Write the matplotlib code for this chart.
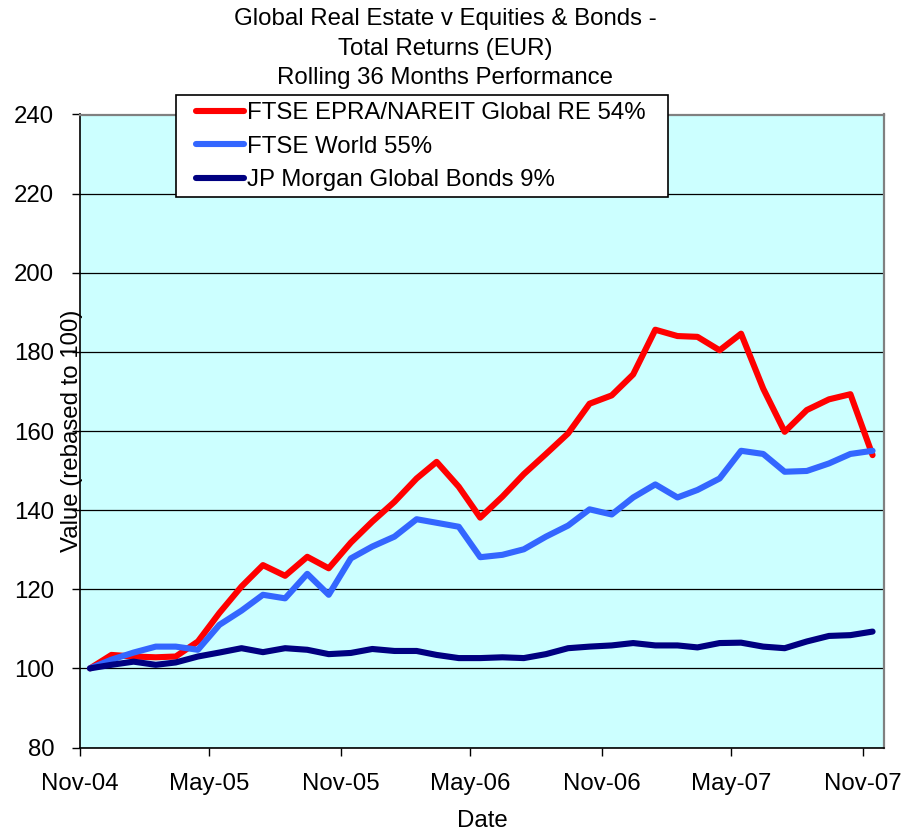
import numpy as np
import pandas as pd
import matplotlib
matplotlib.use("Agg")
import matplotlib.pyplot as plt
import matplotlib.dates as mdates
from matplotlib.patches import Rectangle

plt.rcParams['font.family'] = ['Liberation Sans', 'DejaVu Sans']

# month-end series, 37 points Nov-04 .. Nov-07
dates = pd.date_range(start="2004-11-01", periods=37, freq="MS") + pd.Timedelta(days=14)

real_estate = [100, 103.4, 103.0, 102.8, 103.0, 106.8, 114.0, 120.7, 126.1, 123.4,
               128.2, 125.3, 131.8, 137.1, 142.1, 148.0, 152.2, 145.9, 138.1, 143.4,
               149.1, 154.2, 159.4, 166.9, 169.0, 174.3, 185.6, 184.0, 183.8, 180.4,
               184.6, 170.7, 159.8, 165.3, 168.0, 169.3, 153.9]
equities = [100, 102.2, 104.0, 105.5, 105.5, 104.7, 111.0, 114.6, 118.6, 117.7,
            123.9, 118.6, 127.8, 130.8, 133.3, 137.7, 136.8, 135.8, 128.1, 128.7,
            130.1, 133.3, 136.1, 140.2, 138.9, 143.2, 146.5, 143.2, 145.1, 148.0,
            155.0, 154.2, 149.7, 149.9, 151.8, 154.2, 155.0]
bonds = [100, 100.9, 101.7, 100.9, 101.5, 103.0, 104.0, 105.1, 104.1, 105.1,
         104.7, 103.6, 103.9, 104.9, 104.4, 104.4, 103.4, 102.6, 102.6, 102.8,
         102.6, 103.6, 105.1, 105.5, 105.8, 106.4, 105.8, 105.8, 105.3, 106.4,
         106.5, 105.5, 105.1, 106.8, 108.2, 108.4, 109.3]

labels = ["FTSE EPRA/NAREIT Global RE 54%", "FTSE World 55%", "JP Morgan Global Bonds 9%"]
colors = ["#FF0000", "#3366FF", "#000080"]
series = [real_estate, equities, bonds]

W, H = 912, 832
fig = plt.figure(figsize=(W / 100, H / 100), dpi=100)
ax = fig.add_axes([80 / W, 1 - 747.5 / H, 804 / W, 633 / H])
ax.set_facecolor("#CCFFFF")

fs = 17.3

lines = []
for vals, c, lab in zip(series, colors, labels):
    ln, = ax.plot(dates, vals, color=c, lw=4.4, label=lab,
                  solid_capstyle="round", solid_joinstyle="round")
    lines.append(ln)

ax.set_ylim(80, 240)
ax.set_yticks(np.arange(80, 241, 20))
ax.set_xlim(pd.Timestamp("2004-11-01"), pd.Timestamp("2007-12-01"))
ax.xaxis.set_major_locator(mdates.MonthLocator(bymonth=[5, 11]))
ax.xaxis.set_major_formatter(mdates.DateFormatter("%b-%y"))

ax.grid(axis="y", color="black", lw=0.9)
ax.set_axisbelow(True)
ax.tick_params(axis="both", labelsize=fs, length=5.5, width=1, direction="out", color="black")
ax.tick_params(axis="y", pad=13)
ax.tick_params(axis="x", pad=25)
for lbl in ax.get_xticklabels():
    lbl.set_verticalalignment("baseline")
for s in ["top", "right"]:
    ax.spines[s].set_color("#808080")
    ax.spines[s].set_linewidth(1.6)
for s in ["left", "bottom"]:
    ax.spines[s].set_color("black")
    ax.spines[s].set_linewidth(1.2)

# titles and axis labels
title_lines = ["Global Real Estate v Equities & Bonds -", "Total Returns (EUR)",
               "Rolling 36 Months Performance"]
for i, t in enumerate(title_lines):
    fig.text(445 / W, 1 - (19 + 29.5 * i) / H, t, ha="center", va="center", fontsize=fs)
fig.text(72 / W, 1 - 431 / H, "Value (rebased to 100)", rotation=90,
         ha="center", va="center", fontsize=fs)
fig.text(482 / W, 1 - 821 / H, "Date", ha="center", va="center", fontsize=fs)

# legend box
fig.patches.append(Rectangle((175.7 / W, 1 - 197.3 / H), (668 - 175.7) / W, (197.3 - 94.7) / H,
                             transform=fig.transFigure, facecolor="white",
                             edgecolor="black", lw=1.2, zorder=5))
leg = fig.legend(handles=lines, labels=labels, loc="upper left",
                 bbox_to_anchor=(196 / W, 1 - 102 / H), frameon=False, fontsize=fs,
                 handlelength=2.0, handletextpad=0.13, labelspacing=0.48, borderpad=0.0,
                 borderaxespad=0)
leg.set_zorder(6)

fig.savefig("out.png", dpi=100)
